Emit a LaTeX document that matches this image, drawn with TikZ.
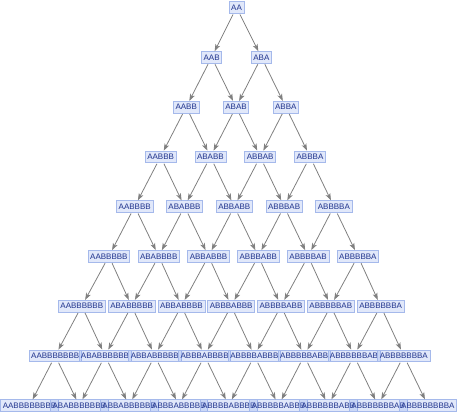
\documentclass[tikz,border=0pt]{standalone}
\usepackage{fontspec}
\setmainfont{Liberation Sans}
\usetikzlibrary{arrows.meta}
\definecolor{boxfill}{RGB}{135,163,235}
\definecolor{boxline}{RGB}{165,185,235}
\definecolor{labeltext}{RGB}{30,50,140}
\definecolor{edgegray}{RGB}{128,128,128}
\ExplSyntaxOn
\cs_new:Npn \myrepB #1 { \prg_replicate:nn {#1} {B} }
\ExplSyntaxOff
\begin{document}
\begin{tikzpicture}[x=1pt,y=-1pt,
  vlabel/.style={draw=boxline, fill=boxfill, fill opacity=0.25, text opacity=1,
    text=labeltext, font=\fontsize{8}{8}\selectfont, inner xsep=2.1pt, inner ysep=2.9pt,
    text height=5.8pt, text depth=0pt, line width=0.6pt},
  arrowline/.style={draw=edgegray, line width=0.8pt, shorten <=1pt,
    -{Stealth[length=7pt,width=5pt,inset=1.8pt]}}]
\useasboundingbox (0,0) rectangle (459,415);
\foreach \k in {0,...,8} {
  \pgfmathsetmacro\cx{{236.5,236.5,236,235.3,234.3,233.4,231.2,229.5,228.7}[\k]}
  \foreach \i in {0,...,\k} {
    \node[vlabel] (n-\k-\i) at ({\cx+(\i-\k/2)*49.8}, {7.5+49.75*\k})
      {A\myrepB{\i}A\myrepB{\k-\i}};
  }
}
\foreach \k in {0,...,7} {
  \pgfmathtruncatemacro\kn{\k+1}
  \foreach \i in {0,...,\k} {
    \pgfmathtruncatemacro\ii{\i+1}
    \draw[arrowline] (n-\k-\i) -- (n-\kn-\i);
    \draw[arrowline] (n-\k-\i) -- (n-\kn-\ii);
  }
}
\end{tikzpicture}
\end{document}
